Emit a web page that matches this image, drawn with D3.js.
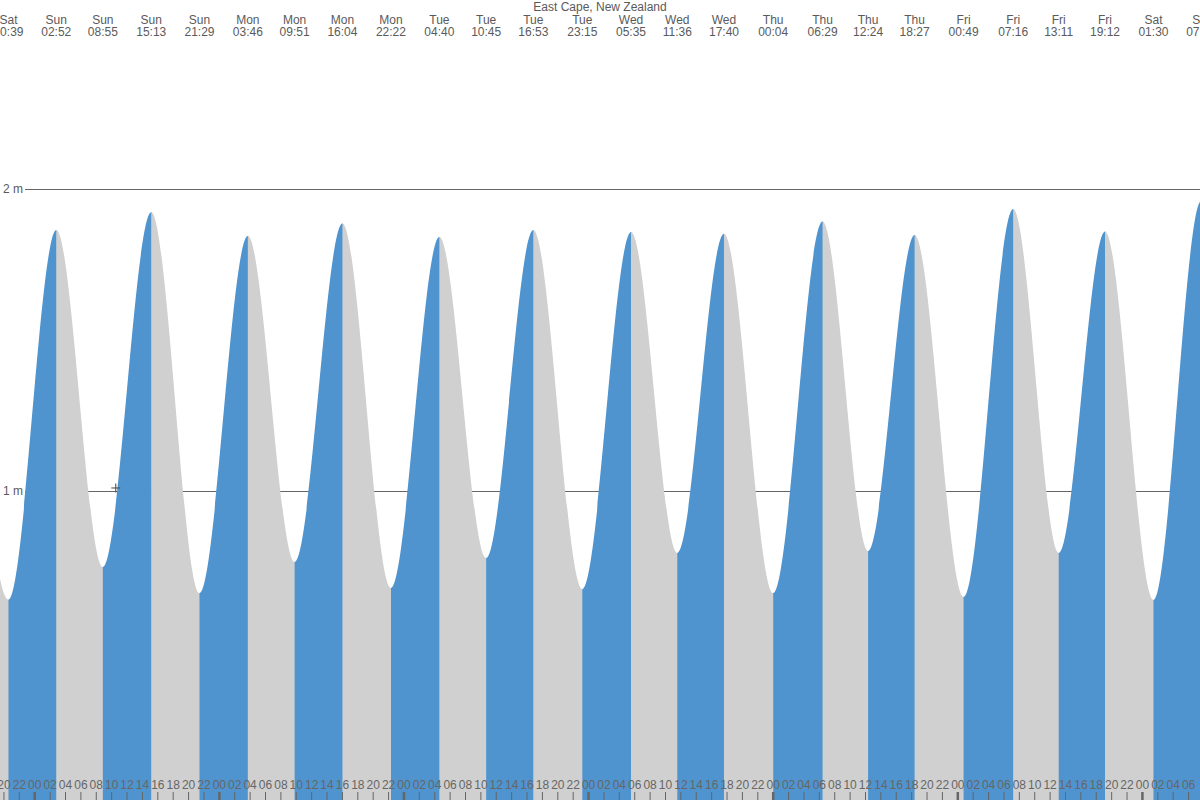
<!DOCTYPE html>
<html>
<head>
<meta charset="utf-8">
<script src="https://cdn.jsdelivr.net/npm/d3@7"></script>
<style>
  html, body { margin: 0; padding: 0; background: #fff; }
  svg { display: block; }
  text { font-family: "Liberation Sans", Arial, sans-serif; }
</style>
</head>
<body>
<svg id="chart" width="1200" height="800"></svg>
<script>
// ---- Data ----
const title = "East Cape, New Zealand";
// Tide extremes: day name, local time, height (m)
const tideDays = ["Sat","Sat","Sun","Sun","Sun","Sun","Mon","Mon","Mon","Mon","Tue","Tue","Tue","Tue",
                  "Wed","Wed","Wed","Thu","Thu","Thu","Thu","Fri","Fri","Fri","Fri","Sat","Sat","Sat"];
const tideTimes = ["15:10","20:39","02:52","08:55","15:13","21:29","03:46","09:51","16:04","22:22","04:40","10:45","16:53","23:15",
                   "05:35","11:36","17:40","00:04","06:29","12:24","18:27","00:49","07:16","13:11","19:12","01:30","07:42","13:50"];
const tideHeights = [1.87,0.64,1.864,0.748,1.923,0.662,1.844,0.765,1.886,0.679,1.841,0.778,1.864,0.675,
                     1.858,0.795,1.852,0.662,1.892,0.801,1.848,0.649,1.934,0.795,1.859,0.639,1.96,0.70];
const gridLevels = [1, 2];
const gridLabels = ["1 m", "2 m"];
// visible time window in hours relative to Sunday 00:00
const windowStart = -4.45, windowEnd = 151.55;

// ---- Build ----
const W = 1200, H = 800;
const svg = d3.select("#chart");
const blue = "#4f94cf", grey = "#d0d0d0", textCol = "#5a5a5a", lineCol = "#666";

// convert day + time to hours since Sunday 00:00
let dayIdx = -1, prevDay = tideDays[0];
const tides = tideDays.map((d, i) => {
  if (d !== prevDay) { dayIdx++; prevDay = d; }
  const [hh, mm] = tideTimes[i].split(":").map(Number);
  return { day: d, time: tideTimes[i], t: dayIdx * 24 + hh + mm / 60, h: tideHeights[i] };
});

const x = d3.scaleLinear().domain([windowStart, windowEnd]).range([0, W]);
const y = d3.scaleLinear().domain([0, 2]).range([793, 189]);

// grid lines (under the fills)
const grid = svg.append("g");
gridLevels.forEach((lv, i) => {
  grid.append("line").attr("x1", 25).attr("x2", W).attr("y1", y(lv)).attr("y2", y(lv))
    .attr("stroke", lineCol).attr("stroke-width", 1).attr("shape-rendering", "crispEdges");
  grid.append("text").attr("x", 23).attr("y", y(lv) + 4).attr("text-anchor", "end")
    .attr("font-size", 12).attr("fill", textCol).text(gridLabels[i]);
});

// tide area split into rising (blue) and falling (grey) segments
const area = d3.area().x(d => x(d.t)).y0(H).y1(d => y(d.h)).curve(d3.curveMonotoneX);
const defs = svg.append("defs");
const areas = svg.append("g");
for (let i = 0; i < tides.length - 1; i++) {
  const a = tides[i], b = tides[i + 1];
  const x0 = x(a.t), x1 = x(b.t);
  defs.append("clipPath").attr("id", "seg" + i)
    .append("rect").attr("x", x0).attr("y", 0).attr("width", x1 - x0 + 0.6).attr("height", H);
  areas.append("path").datum(tides).attr("d", area)
    .attr("clip-path", `url(#seg${i})`)
    .attr("fill", b.h > a.h ? blue : grey);
}

// title
svg.append("text").attr("x", W / 2).attr("y", 11).attr("text-anchor", "middle")
  .attr("font-size", 12).attr("fill", textCol).text(title);

// extreme labels on top
const tops = svg.append("g").selectAll("g").data(tides).join("g")
  .attr("transform", d => `translate(${x(d.t)},0)`);
tops.append("text").attr("y", 24).attr("text-anchor", "middle").attr("font-size", 12)
  .attr("fill", textCol).text(d => d.day);
tops.append("text").attr("y", 36).attr("text-anchor", "middle").attr("font-size", 12)
  .attr("fill", textCol).text(d => d.time);

// hour axis at the bottom
const hourTicks = d3.range(Math.ceil(windowStart / 2) * 2, windowEnd, 2);
const axis = d3.axisTop(x).tickValues(hourTicks).tickSize(8).tickPadding(3)
  .tickFormat(h => String(((h % 24) + 24) % 24).padStart(2, "0"));
const ax = svg.append("g").attr("transform", `translate(0,${H})`).call(axis);
ax.select(".domain").remove();
ax.selectAll(".tick line").attr("stroke", lineCol)
  .attr("stroke-width", h => (((h % 24) + 24) % 24) === 0 ? 2.5 : 1);
ax.selectAll(".tick text").attr("fill", "#666").attr("font-size", 12)
  .attr("font-family", "Liberation Sans, Arial, sans-serif");

// cursor crosshair seen in the reference
const cx = x(10.6), cy = y(1.01);
svg.append("path").attr("d", `M${cx - 4.5},${cy}H${cx + 4.5}M${cx},${cy - 4.5}V${cy + 4.5}`)
  .attr("stroke", "#444").attr("stroke-width", 1).attr("fill", "none");
</script>
</body>
</html>
